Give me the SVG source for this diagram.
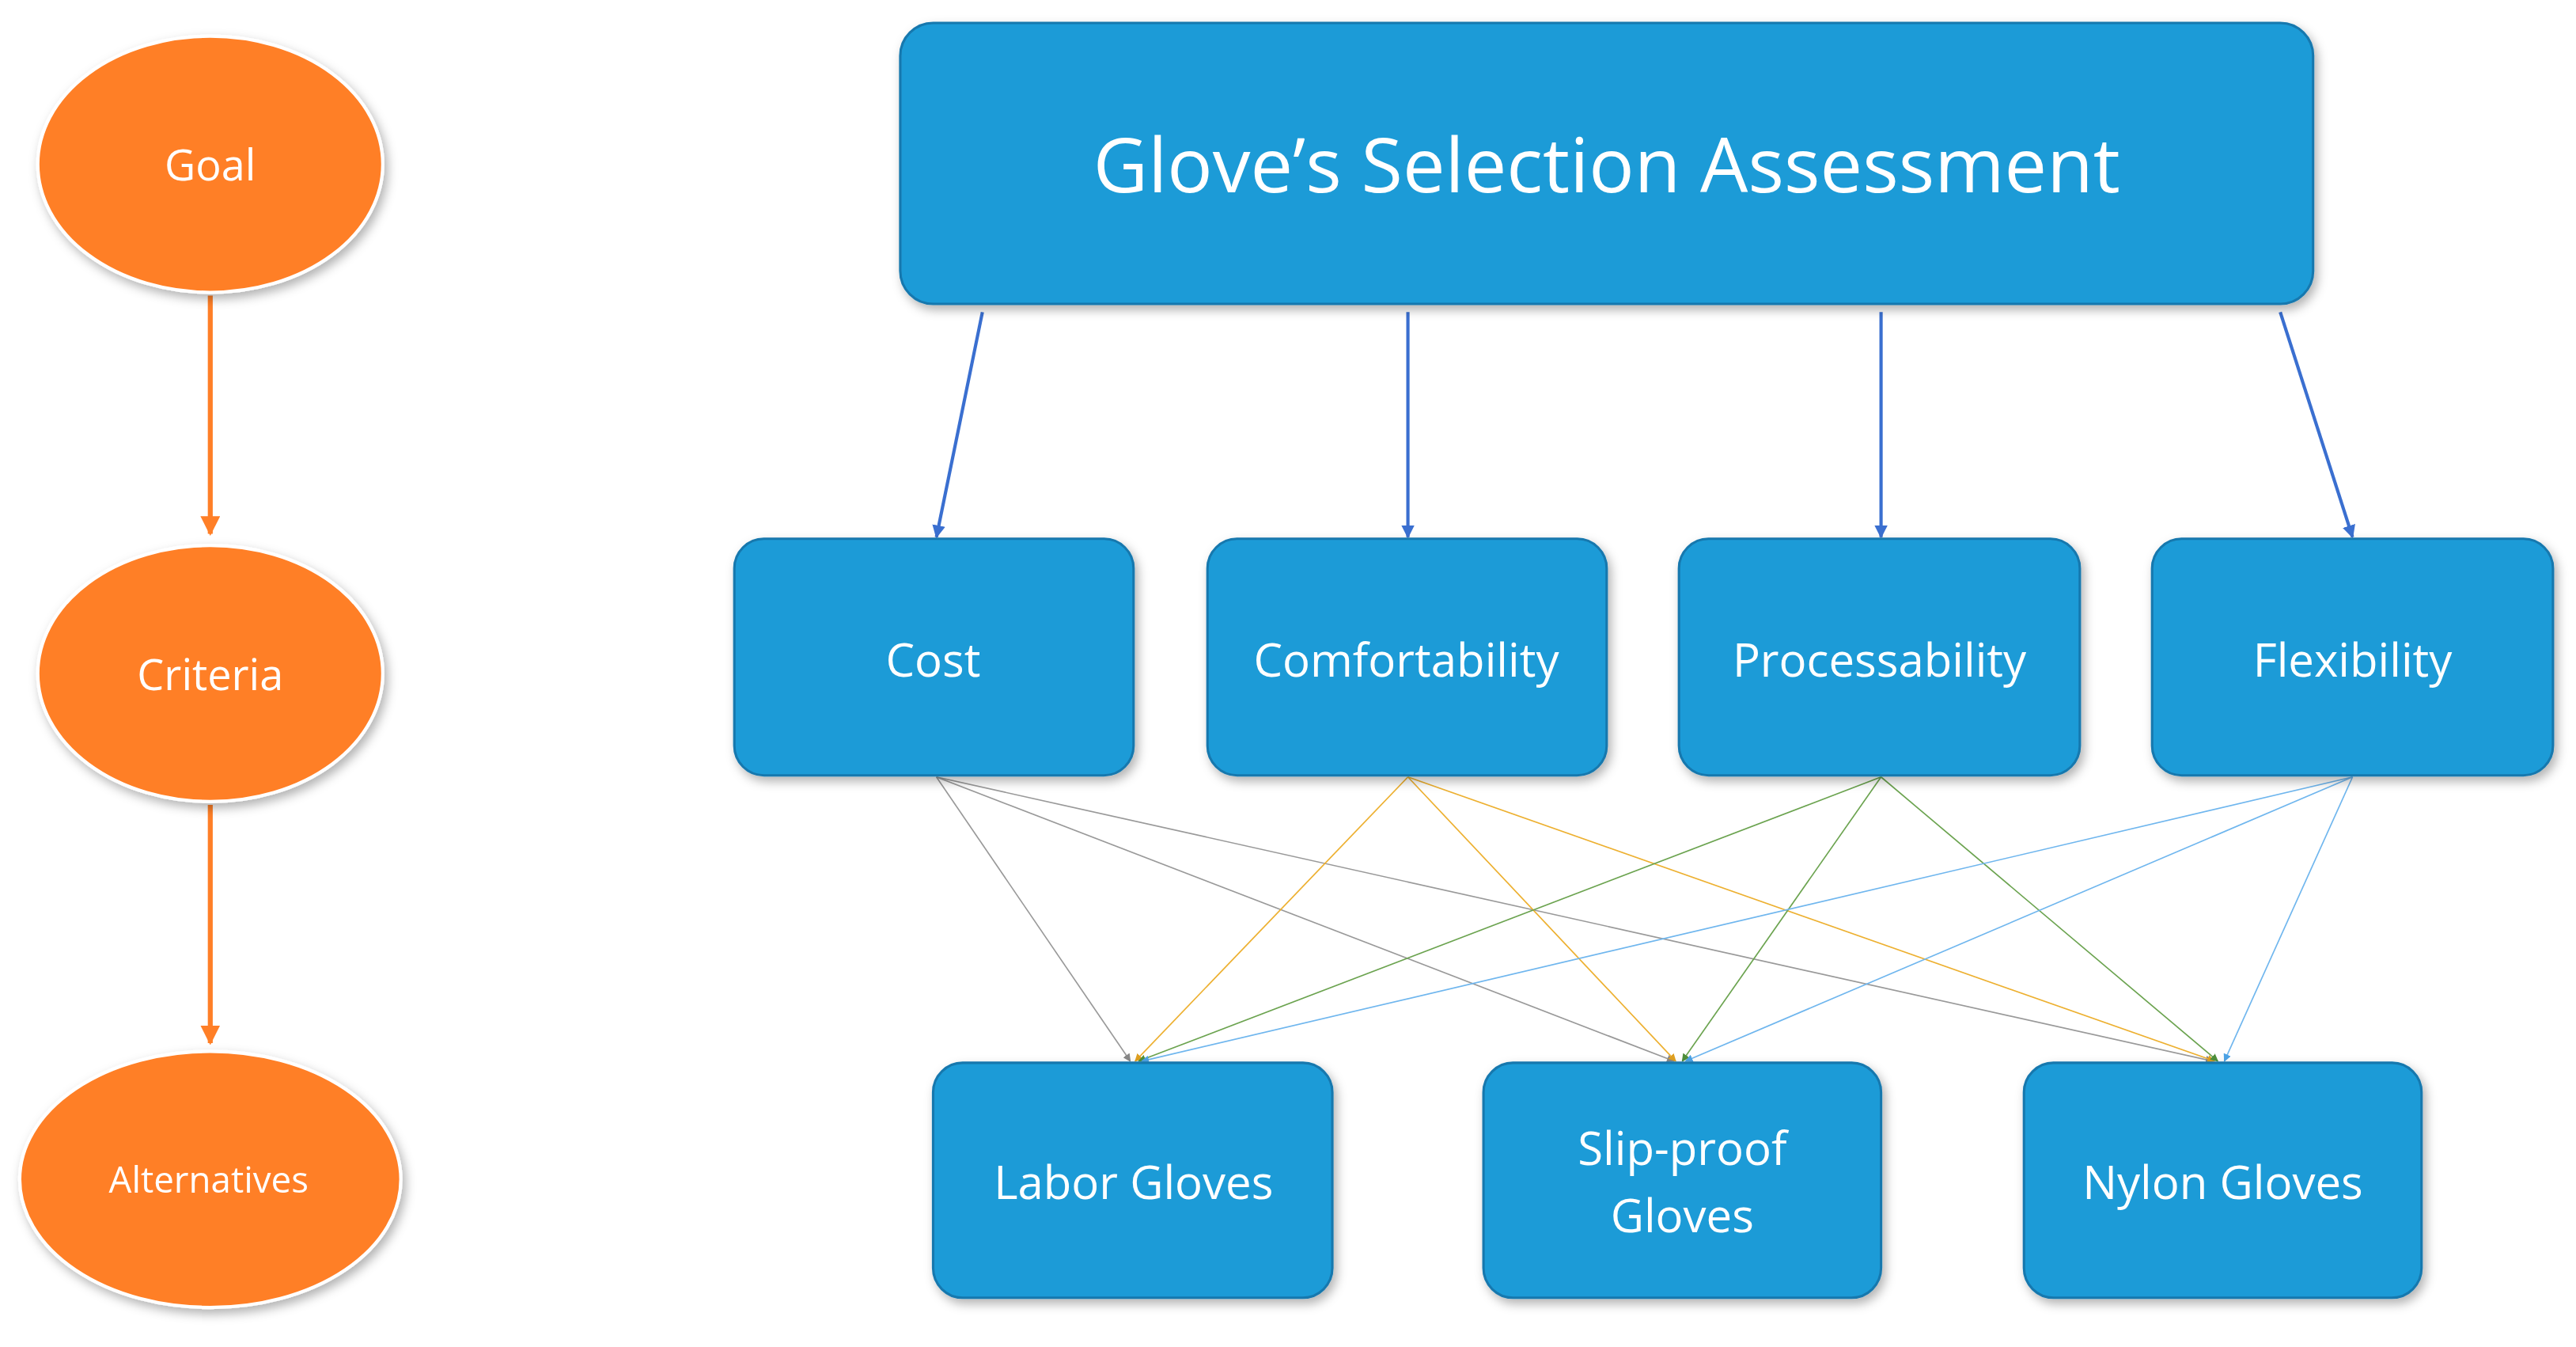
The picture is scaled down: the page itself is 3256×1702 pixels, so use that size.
<svg xmlns="http://www.w3.org/2000/svg" width="3256" height="1702" viewBox="0 0 3256 1702">
<style>
.b{fill:#1D9BD7;stroke:#1778AE;stroke-width:1.5}
.e{fill:#FF7F27;stroke:#fff;stroke-width:2}
.t{font-family:"Open Sans","Liberation Sans",sans-serif;fill:#fff;text-anchor:middle}
.o{stroke:#FF7F27;stroke-width:3;fill:none}
.bl{stroke:#3A6FD0;stroke-width:2;fill:none}
</style>
<defs>
<filter id="sh" x="-20%" y="-20%" width="140%" height="140%"><feDropShadow dx="2" dy="3" stdDeviation="3" flood-opacity="0.3"/></filter>
<marker id="mo" viewBox="0 0 10 10" refX="9" refY="5" markerWidth="4" markerHeight="4" orient="auto"><path d="M0,0L10,5L0,10z" fill="#FF7F27"/></marker>
<marker id="mb" viewBox="0 0 10 10" refX="9" refY="5" markerWidth="4" markerHeight="4" orient="auto"><path d="M0,0L10,5L0,10z" fill="#3A6FD0"/></marker>
<marker id="mg" viewBox="0 0 10 10" refX="9" refY="5" markerWidth="6" markerHeight="6" orient="auto"><path d="M0,0L10,5L0,10z" fill="#888"/></marker>
<marker id="my" viewBox="0 0 10 10" refX="9" refY="5" markerWidth="6" markerHeight="6" orient="auto"><path d="M0,0L10,5L0,10z" fill="#E0A020"/></marker>
<marker id="mgr" viewBox="0 0 10 10" refX="9" refY="5" markerWidth="6" markerHeight="6" orient="auto"><path d="M0,0L10,5L0,10z" fill="#4E8F3A"/></marker>
<marker id="mlb" viewBox="0 0 10 10" refX="9" refY="5" markerWidth="6" markerHeight="6" orient="auto"><path d="M0,0L10,5L0,10z" fill="#4CA3E6"/></marker>
</defs>
<g transform="scale(2.0765 2.0756)">
<g id="connectors">
<path class="o" d="M128,180V325" marker-end="url(#mo)"/>
<path class="o" d="M128,490V635" marker-end="url(#mo)"/>
<path class="bl" d="M598,190L570,327" marker-end="url(#mb)"/>
<path class="bl" d="M857,190V327" marker-end="url(#mb)"/>
<path class="bl" d="M1145,190V327" marker-end="url(#mb)"/>
<path class="bl" d="M1388,190L1432,327" marker-end="url(#mb)"/>
<g stroke="#999" stroke-width="0.8" fill="none">
<path d="M570,473L688,646" marker-end="url(#mg)"/><path d="M570,473L1019,646" marker-end="url(#mg)"/><path d="M570,473L1347,646" marker-end="url(#mg)"/>
</g>
<g stroke="#EDB030" stroke-width="0.8" fill="none">
<path d="M857,473L691,646" marker-end="url(#my)"/><path d="M857,473L1020,646" marker-end="url(#my)"/><path d="M857,473L1348,646" marker-end="url(#my)"/>
</g>
<g stroke="#6BA34F" stroke-width="0.8" fill="none">
<path d="M1145,473L693,646" marker-end="url(#mgr)"/><path d="M1145,473L1024,646" marker-end="url(#mgr)"/><path d="M1145,473L1350,646" marker-end="url(#mgr)"/>
</g>
<g stroke="#6FB6EE" stroke-width="0.8" fill="none">
<path d="M1432,473L695,646" marker-end="url(#mlb)"/><path d="M1432,473L1026,646" marker-end="url(#mlb)"/><path d="M1432,473L1354,646" marker-end="url(#mlb)"/>
</g>
</g>
<g id="goal" filter="url(#sh)"><ellipse class="e" cx="128" cy="100" rx="105" ry="78"/><text class="t" x="128" y="110" font-size="26">Goal</text></g>
<g id="criteria" filter="url(#sh)"><ellipse class="e" cx="128" cy="410" rx="105" ry="78"/><text class="t" x="128" y="420" font-size="26">Criteria</text></g>
<g id="alternatives" filter="url(#sh)"><ellipse class="e" cx="128" cy="718" rx="116" ry="78"/><text class="t" x="127" y="726" font-size="22">Alternatives</text></g>
<g id="top" filter="url(#sh)"><rect class="b" x="548" y="14" width="860" height="171" rx="20"/><text class="t" x="978" y="117" font-size="46">Glove’s Selection Assessment</text></g>
<g id="cost" filter="url(#sh)"><rect class="b" x="447" y="328" width="243" height="144" rx="18"/><text class="t" x="568" y="412" font-size="28">Cost</text></g>
<g id="comfortability" filter="url(#sh)"><rect class="b" x="735" y="328" width="243" height="144" rx="18"/><text class="t" x="856" y="412" font-size="28">Comfortability</text></g>
<g id="processability" filter="url(#sh)"><rect class="b" x="1022" y="328" width="244" height="144" rx="18"/><text class="t" x="1144" y="412" font-size="28">Processability</text></g>
<g id="flexibility" filter="url(#sh)"><rect class="b" x="1310" y="328" width="244" height="144" rx="18"/><text class="t" x="1432" y="412" font-size="28">Flexibility</text></g>
<g id="labor" filter="url(#sh)"><rect class="b" x="568" y="647" width="243" height="143" rx="18"/><text class="t" x="690" y="730" font-size="28">Labor Gloves</text></g>
<g id="slipproof" filter="url(#sh)"><rect class="b" x="903" y="647" width="242" height="143" rx="18"/><text class="t" x="1024" y="709" font-size="28">Slip-proof</text><text class="t" x="1024" y="750" font-size="28">Gloves</text></g>
<g id="nylon" filter="url(#sh)"><rect class="b" x="1232" y="647" width="242" height="143" rx="18"/><text class="t" x="1353" y="730" font-size="28">Nylon Gloves</text></g>
</g>
</svg>
